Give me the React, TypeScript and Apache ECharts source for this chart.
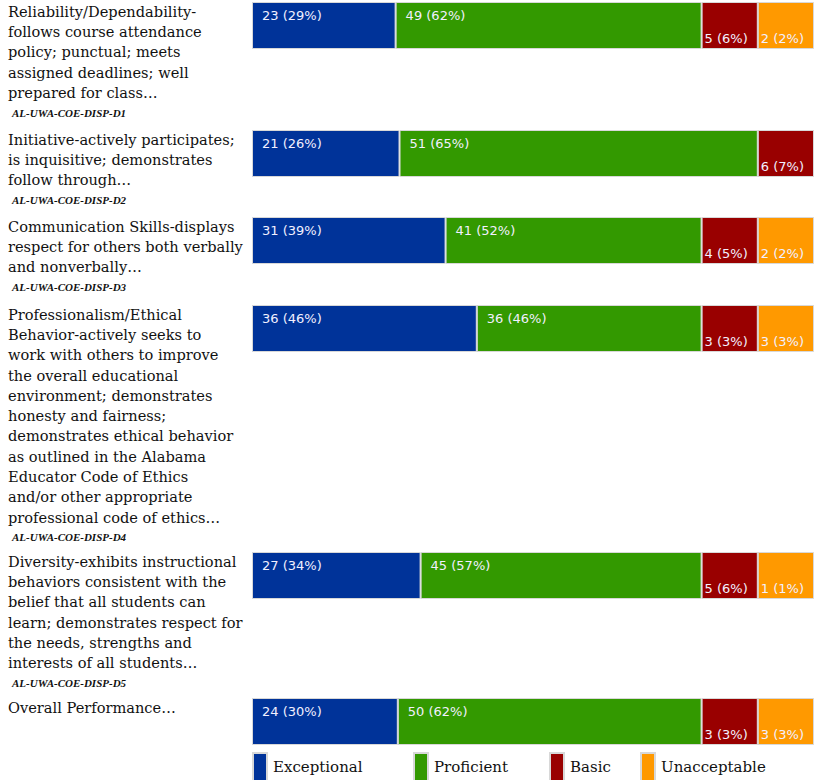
import React, { useEffect, useRef } from "react";
import * as echarts from "echarts";

// ---- data ----
const seriesNames = ["Exceptional", "Proficient", "Basic", "Unacceptable"];
const seriesColors = ["#003399", "#339900", "#990000", "#FF9900"];

const exceptionalCounts = [23, 21, 31, 36, 27, 24];
const proficientCounts = [49, 51, 41, 36, 45, 50];
const basicCounts = [5, 6, 4, 3, 5, 3];
const unacceptableCounts = [2, 0, 2, 3, 1, 3];

const exceptionalPct = [29, 26, 39, 46, 34, 30];
const proficientPct = [62, 65, 52, 46, 57, 62];
const basicPct = [6, 7, 5, 3, 6, 3];
const unacceptablePct = [2, 0, 2, 3, 1, 3];

const categoryLines: string[][] = [
  ["Reliability/Dependability-", "follows course attendance", "policy; punctual; meets", "assigned deadlines; well", "prepared for class…"],
  ["Initiative-actively participates;", "is inquisitive; demonstrates", "follow through…"],
  ["Communication Skills-displays", "respect for others both verbally", "and nonverbally…"],
  [
    "Professionalism/Ethical",
    "Behavior-actively seeks to",
    "work with others to improve",
    "the overall educational",
    "environment; demonstrates",
    "honesty and fairness;",
    "demonstrates ethical behavior",
    "as outlined in the Alabama",
    "Educator Code of Ethics",
    "and/or other appropriate",
    "professional code of ethics…",
  ],
  [
    "Diversity-exhibits instructional",
    "behaviors consistent with the",
    "belief that all students can",
    "learn; demonstrates respect for",
    "the needs, strengths and",
    "interests of all students…",
  ],
  ["Overall Performance…"],
];
const categoryCodes = [
  "AL-UWA-COE-DISP-D1",
  "AL-UWA-COE-DISP-D2",
  "AL-UWA-COE-DISP-D3",
  "AL-UWA-COE-DISP-D4",
  "AL-UWA-COE-DISP-D5",
  "",
];

// ---- layout ----
const W = 814;
const H = 780;
const BAR_LEFT = 252;
const BAR_H = 47;
const rowTops = [2, 130, 217, 305, 552, 698];
const LINE_H = 20.3;
const legendLefts = [252, 413, 549, 640];
const MIN_SHARE = 10; // small segments get a minimum visible share so their label fits

const countsBySeries = [exceptionalCounts, proficientCounts, basicCounts, unacceptableCounts];
const pctBySeries = [exceptionalPct, proficientPct, basicPct, unacceptablePct];

function displayShares(row: number): (number | null)[] {
  const counts = countsBySeries.map((c) => c[row]);
  const total = counts.reduce((a, b) => a + b, 0);
  const shares = counts.map((c) => (c / total) * 100);
  const small = shares.map((s) => s > 0 && s < MIN_SHARE);
  const reserved = small.reduce((a, s) => a + (s ? MIN_SHARE : 0), 0);
  const bigSum = shares.reduce((a, s, i) => a + (small[i] || s === 0 ? 0 : s), 0);
  return shares.map((s, i) => {
    if (s === 0) return null;
    if (small[i]) return MIN_SHARE;
    return (s / bigSum) * (100 - reserved);
  });
}

export default function App() {
  const ref = useRef<HTMLDivElement>(null);

  useEffect(() => {
    if (!ref.current) return;
    const chart = echarts.init(ref.current, undefined, { renderer: "svg" });

    const grids: any[] = [];
    const xAxes: any[] = [];
    const yAxes: any[] = [];
    const series: any[] = [];
    const graphics: any[] = [];

    rowTops.forEach((top, row) => {
      grids.push({ left: BAR_LEFT, right: 0, top, height: BAR_H, containLabel: false });
      xAxes.push({ type: "value", gridIndex: row, min: 0, max: 100, show: false });
      yAxes.push({ type: "category", gridIndex: row, data: ["r" + row], show: false });
      const shares = displayShares(row);
      seriesNames.forEach((name, si) => {
        const count = countsBySeries[si][row];
        const pct = pctBySeries[si][row];
        const bottom = si >= 2;
        series.push({
          type: "bar",
          name,
          xAxisIndex: row,
          yAxisIndex: row,
          stack: "s" + row,
          barWidth: "100%",
          data: [shares[si]],
          itemStyle: { color: seriesColors[si], borderColor: "#d8d8d8", borderWidth: 1 },
          label: {
            show: count > 0,
            position: bottom ? "insideBottomLeft" : "insideTopLeft",
            distance: bottom ? 4 : 7,
            offset: bottom ? [-1, 0] : [3, 0],
            formatter: () => `${count} (${pct}%)`,
            color: "#f2f0ff",
            fontFamily: "DejaVu Sans",
            fontSize: 13,
          },
          emphasis: { disabled: true },
        });
      });

      const lines = categoryLines[row];
      graphics.push({
        type: "text",
        x: 8,
        y: top - 1,
        style: {
          text: lines.join("\n"),
          font: '14.6px "DejaVu Serif"',
          lineHeight: LINE_H,
          fill: "#111",
          verticalAlign: "top",
          align: "left",
        },
      });
      if (categoryCodes[row]) {
        graphics.push({
          type: "text",
          x: 12,
          y: top - 1 + lines.length * LINE_H + 3,
          style: {
            text: categoryCodes[row],
            font: 'italic bold 11px "Liberation Serif"',
            lineHeight: 14,
            fill: "#111",
            verticalAlign: "top",
            align: "left",
          },
        });
      }
    });

    const legends = seriesNames.map((name, i) => ({
      data: [name],
      left: legendLefts[i],
      top: 752,
      orient: "horizontal",
      icon: "rect",
      itemWidth: 14,
      itemHeight: 28,
      padding: 0,
      selectedMode: false,
      textStyle: { fontFamily: "DejaVu Serif", fontSize: 15, color: "#111", padding: [0, 0, 0, 1] },
    }));

    chart.setOption({
      animation: false,
      backgroundColor: "#ffffff",
      grid: grids,
      xAxis: xAxes,
      yAxis: yAxes,
      legend: legends,
      series,
      graphic: graphics,
    });

    return () => chart.dispose();
  }, []);

  return (
    <div
      ref={ref}
      style={{ position: "fixed", left: 0, top: 0, width: W, height: H }}
    />
  );
}
